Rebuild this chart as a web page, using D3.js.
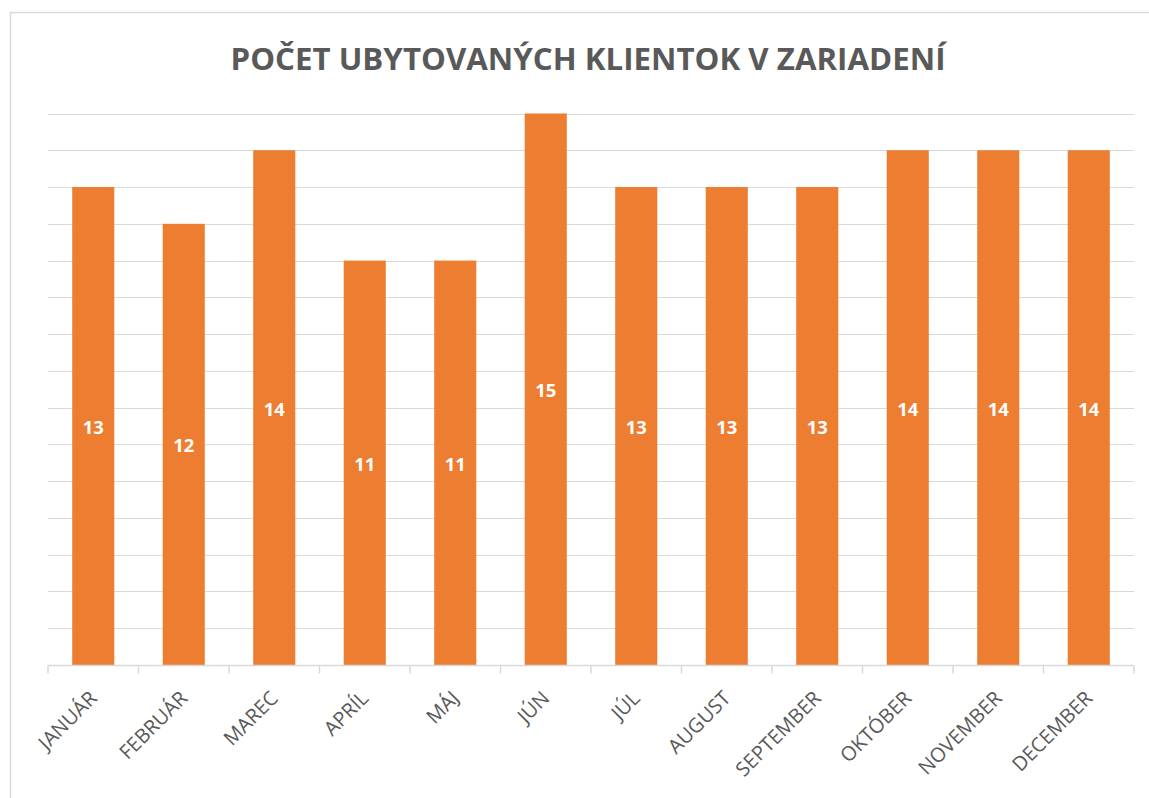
<!DOCTYPE html>
<html><head><meta charset="utf-8">
<script src="https://cdn.jsdelivr.net/npm/d3@7"></script>
<style>body{margin:0;background:#fff}svg{display:block}</style>
</head><body><svg id="c" width="1149" height="798"></svg>
<script>
const title = "POČET UBYTOVANÝCH KLIENTOK V ZARIADENÍ";
const months = ["JANUÁR","FEBRUÁR","MAREC","APRÍL","MÁJ","JÚN","JÚL","AUGUST","SEPTEMBER","OKTÓBER","NOVEMBER","DECEMBER"];
const clients = [13,12,14,11,11,15,13,13,13,14,14,14];
const gridValues = d3.range(0,16);

const svg = d3.select("#c");
const font = "'Open Sans', sans-serif";
const pLeft = 48, pRight = 1134, pTop = 113.5, pBottom = 665;

svg.append("rect").attr("x",10.5).attr("y",12.5).attr("width",1200).attr("height",900)
  .attr("fill","none").attr("stroke","#d9d9d9").attr("stroke-width",1.5);

const x = d3.scaleBand().domain(months).range([pLeft,pRight]).paddingInner(0.535).paddingOuter(0.2675);
const y = d3.scaleLinear().domain([0,15]).range([pBottom,pTop]);

svg.append("g").selectAll("line").data(gridValues.slice(1)).join("line")
  .attr("x1",pLeft).attr("x2",pRight).attr("y1",d=>Math.round(y(d))+0.5).attr("y2",d=>Math.round(y(d))+0.5)
  .attr("stroke","#d9d9d9").attr("stroke-width",1);

svg.append("g").selectAll("rect").data(clients).join("rect")
  .attr("x",(d,i)=>x(months[i])).attr("width",x.bandwidth())
  .attr("y",d=>y(d)).attr("height",d=>pBottom-y(d)).attr("fill","#ed7d31");

// axis
const xb = d3.scaleBand().domain(months).range([pLeft,pRight]);
const ag = svg.append("g").attr("transform",`translate(0,${pBottom+0.5})`);
ag.append("line").attr("x1",pLeft).attr("x2",pRight).attr("stroke","#d9d9d9").attr("stroke-width",1.5);
ag.selectAll("line.t").data(months.concat(["__end"])).join("line").attr("class","t")
  .attr("x1",(d,i)=>pLeft+i*xb.step()).attr("x2",(d,i)=>pLeft+i*xb.step())
  .attr("y1",0).attr("y2",8).attr("stroke","#d9d9d9").attr("stroke-width",1.5);
ag.selectAll("text").data(months).join("text")
  .attr("transform",d=>`translate(${x(d)+x.bandwidth()/2+5},${34}) rotate(-45)`)
  .attr("text-anchor","end")
  .attr("font-family",font).attr("font-size",20).attr("fill","#595959").text(d=>d);

svg.append("g").selectAll("text").data(clients).join("text")
  .attr("x",(d,i)=>x(months[i])+x.bandwidth()/2).attr("y",d=>(y(d)+pBottom)/2+1.5)
  .attr("dy","0.35em").attr("text-anchor","middle")
  .attr("font-family",font).attr("font-weight","bold").attr("font-size",18.5).attr("fill","#fff").text(d=>d);

svg.append("text").attr("x",588).attr("y",70).attr("text-anchor","middle")
  .attr("font-family",font).attr("font-weight","bold").attr("font-size",31).attr("fill","#595959")
  .attr("textLength",715).attr("lengthAdjust","spacingAndGlyphs").text(title);
</script></body></html>
